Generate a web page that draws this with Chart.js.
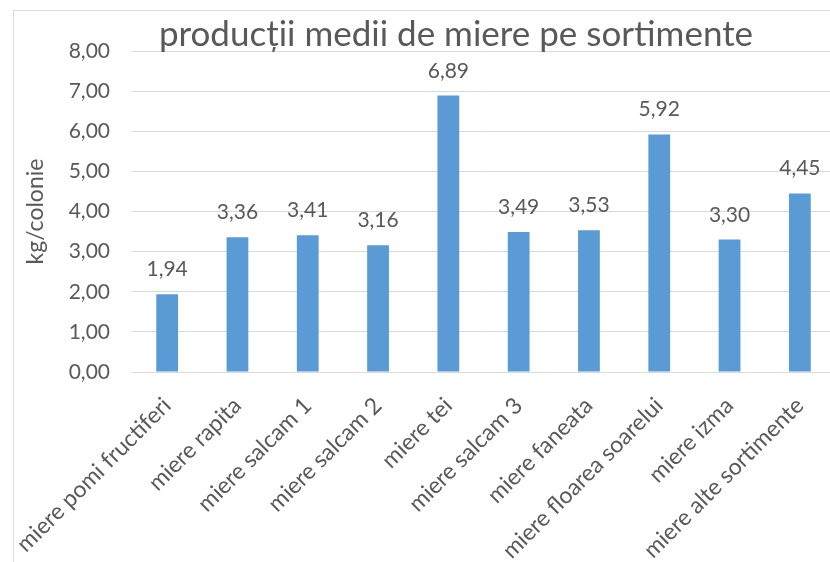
<!DOCTYPE html>
<html>
<head>
<meta charset="utf-8">
<script src="https://cdn.jsdelivr.net/npm/chart.js@4"></script>
<style>
    html, body { margin: 0; padding: 0; background: #fff; overflow: hidden; }
    #wrap { position: relative; width: 830px; height: 562px; overflow: hidden; }
    #frame { position: absolute; left: 13px; top: 10px; width: 900px; height: 600px;
             border-left: 1px solid #d9d9d9; border-top: 1px solid #d9d9d9; }
    #box { position: absolute; left: 0; top: 0; width: 850px; height: 562px; }
    #title { position: absolute; left: 0; width: 912px; top: 12px; text-align: center;
             font-family: Lato, sans-serif; font-size: 35px; line-height: 40px; color: #595959;
             white-space: nowrap; pointer-events: none; }
</style>
</head>
<body>
<div id="wrap">
    <div id="frame"></div>
    <div id="box"><canvas id="chart"></canvas></div>
    <div id="title">producții medii de miere pe sortimente</div>
</div>
<script>
const categories = [
    'miere pomi fructiferi', 'miere rapita', 'miere salcam 1', 'miere salcam 2', 'miere tei',
    'miere salcam 3', 'miere faneata', 'miere floarea soarelui', 'miere izma', 'miere alte sortimente'
];
const values = [1.94, 3.36, 3.41, 3.16, 6.89, 3.49, 3.53, 5.92, 3.30, 4.45];
const yTicks = [0, 1, 2, 3, 4, 5, 6, 7, 8];
const yTitle = 'kg/colonie';

const textColor = '#595959';
const gridColor = '#d9d9d9';
const fmt = v => v.toFixed(2).replace('.', ',');

// Value labels above the bars
const barLabels = {
    id: 'barLabels',
    afterDatasetsDraw(chart) {
        const ctx = chart.ctx;
        const meta = chart.getDatasetMeta(0);
        ctx.save();
        ctx.font = '21px Lato, sans-serif';
        ctx.fillStyle = textColor;
        ctx.textAlign = 'center';
        ctx.textBaseline = 'alphabetic';
        meta.data.forEach((bar, i) => {
            ctx.fillText(fmt(values[i]), bar.x, bar.y - 18);
        });
        ctx.restore();
    }
};

const canvas = document.getElementById('chart');
canvas.width = 850;
canvas.height = 562;

new Chart(canvas.getContext('2d'), {
    type: 'bar',
    data: {
        labels: categories,
        datasets: [{
            data: values,
            backgroundColor: '#5b9bd5',
            barPercentage: 0.31,
            categoryPercentage: 1
        }]
    },
    options: {
        responsive: false,
        animation: false,
        layout: { padding: { top: 51, right: 15, left: 0, bottom: 0 } },
        plugins: {
            legend: { display: false },
            tooltip: { enabled: false }
        },
        scales: {
            x: {
                grid: { display: false },
                border: { display: true, color: gridColor, width: 1 },
                ticks: {
                    color: textColor,
                    font: { family: 'Lato', size: 23 },
                    maxRotation: 45,
                    minRotation: 45,
                    autoSkip: false,
                    padding: 12
                },
                afterFit: s => { s.height = 190; }
            },
            y: {
                min: 0,
                max: 8,
                afterBuildTicks: s => { s.ticks = yTicks.map(v => ({ value: v })); },
                grid: { color: gridColor, drawTicks: false },
                border: { display: false },
                ticks: {
                    color: textColor,
                    font: { family: 'Lato', size: 21 },
                    padding: 22,
                    callback: v => fmt(v)
                },
                title: {
                    display: true,
                    text: yTitle,
                    color: textColor,
                    font: { family: 'Lato', size: 23 },
                    padding: { top: 22, bottom: 0 }
                },
                afterFit: s => { s.width = 132; }
            }
        }
    },
    plugins: [barLabels]
});
</script>
</body>
</html>
